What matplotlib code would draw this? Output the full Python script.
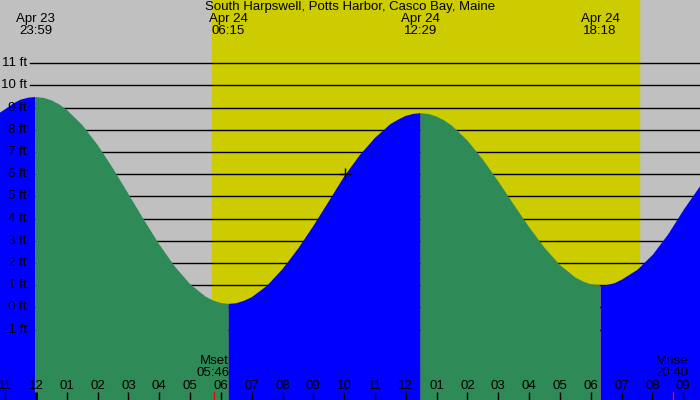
import numpy as np
import matplotlib
matplotlib.use("Agg")
import matplotlib.pyplot as plt

plt.rcParams['font.family'] = ['Liberation Sans', 'DejaVu Sans']

# tide height (ft), hours from midnight Apr 24
hours = [-1.2, -1.0, -0.75, -0.5, -0.25, -0.02, 0.25, 0.5, 0.75, 1.0, 1.5,
         2.0, 2.5, 3.0, 3.5, 4.0, 4.5, 5.0, 5.5, 5.75, 6.0, 6.25, 6.5, 6.75,
         7.0, 7.5, 8.0, 8.5, 9.0, 9.5, 10.0, 10.5, 11.0, 11.5, 11.75, 12.0,
         12.25, 12.48, 12.75, 13.0, 13.25, 13.5, 14.0, 14.5, 15.0, 15.5, 16.0,
         16.5, 17.0, 17.5, 17.75, 18.0, 18.3, 18.5, 18.75, 19.0, 19.5, 20.0,
         20.5, 21.0, 21.6]
heights = [8.75, 8.93, 9.18, 9.36, 9.45, 9.48, 9.44, 9.33, 9.15, 8.90, 8.22,
           7.32, 6.26, 5.11, 3.95, 2.84, 1.85, 1.05, 0.49, 0.31, 0.20, 0.16,
           0.19, 0.30, 0.46, 0.98, 1.73, 2.64, 3.67, 4.78, 5.90, 6.85, 7.64,
           8.26, 8.46, 8.63, 8.72, 8.75, 8.71, 8.60, 8.42, 8.18, 7.52, 6.66,
           5.68, 4.64, 3.62, 2.69, 1.91, 1.35, 1.17, 1.04, 1.00, 1.03, 1.11,
           1.28, 1.72, 2.40, 3.32, 4.42, 5.62]

# high / low tides
ext_hours = [-0.02, 6.25, 12.48, 18.3]
ext_dates = ["Apr 23", "Apr 24", "Apr 24", "Apr 24"]
ext_times = ["23:59", "06:15", "12:29", "18:18"]

sunrise, sunset = 5.71, 19.57
moon_hours = [5.77, 20.67]
moon_labels = ["Mset\n05:46", "Mrise\n20:40"]
now_hour, now_height = 10.03, 6.0

ft_levels = list(range(-1, 12))
hour_ticks = list(range(-1, 22))

title = "South Harpswell, Potts Harbor, Casco Bay, Maine"

GREY = "#c0c0c0"
YELLOW = "#cccc00"
GREEN = "#2e8b57"
BLUE = "#0000ff"
FS = 9.5

fig = plt.figure(figsize=(7, 4), dpi=100)
ax = fig.add_axes([0, 0, 1, 1])
ax.set_xlim(-1.168, 21.545)
ax.set_ylim(-4.17, 13.85)
ax.axis("off")
ax.add_patch(plt.Rectangle((0, 0), 1, 1, transform=ax.transAxes, color=GREY, zorder=0))
ax.axvspan(sunrise, sunset, color=YELLOW, zorder=1)

for lv in ft_levels:
    ax.axhline(lv, xmin=30 / 700, xmax=1, color="black", lw=1, zorder=2)
    ax.text(27 / 700, lv, f"{lv} ft", transform=ax.get_yaxis_transform(),
            ha="right", va="center", fontsize=FS, zorder=5)

h = np.array(hours)
v = np.array(heights)
bounds = [hours[0]] + ext_hours + [hours[-1]]
for i in range(len(bounds) - 1):
    m = (h >= bounds[i]) & (h <= bounds[i + 1])
    col = BLUE if i % 2 == 0 else GREEN
    ax.fill_between(h[m], v[m], -10, color=col, lw=0, zorder=3)

ax.plot([now_hour], [now_height], marker="+", color="black", ms=8, mew=1, zorder=4)

xt = ax.get_xaxis_transform()
ax.text(0.5, 1 - 7 / 400, title, transform=ax.transAxes, ha="center", va="center", fontsize=FS)
for eh, d, t in zip(ext_hours, ext_dates, ext_times):
    ax.text(eh, 1 - 19 / 400, d, transform=xt, ha="center", va="center", fontsize=FS)
    ax.text(eh, 1 - 31 / 400, t, transform=xt, ha="center", va="center", fontsize=FS)

for hr in hour_ticks:
    lab = hr % 12
    lab = 12 if lab == 0 else lab
    ax.text(hr, 14 / 400, f"{lab:02d}", transform=xt, ha="center", va="center", fontsize=FS, zorder=5)
    ax.plot([hr, hr], [0, 8 / 400], transform=xt, color="black",
            lw=2 if hr == 0 else 1, zorder=5, solid_capstyle="butt")

for mh, ml in zip(moon_hours, moon_labels):
    ax.plot([mh, mh], [0, 8 / 400], transform=xt, color="red", lw=1, zorder=5)
    ax.text(mh + 0.5, 33 / 400, ml, transform=xt, ha="right", va="center",
            fontsize=FS, linespacing=1.0, zorder=5)

fig.savefig("out.png", dpi=100)
